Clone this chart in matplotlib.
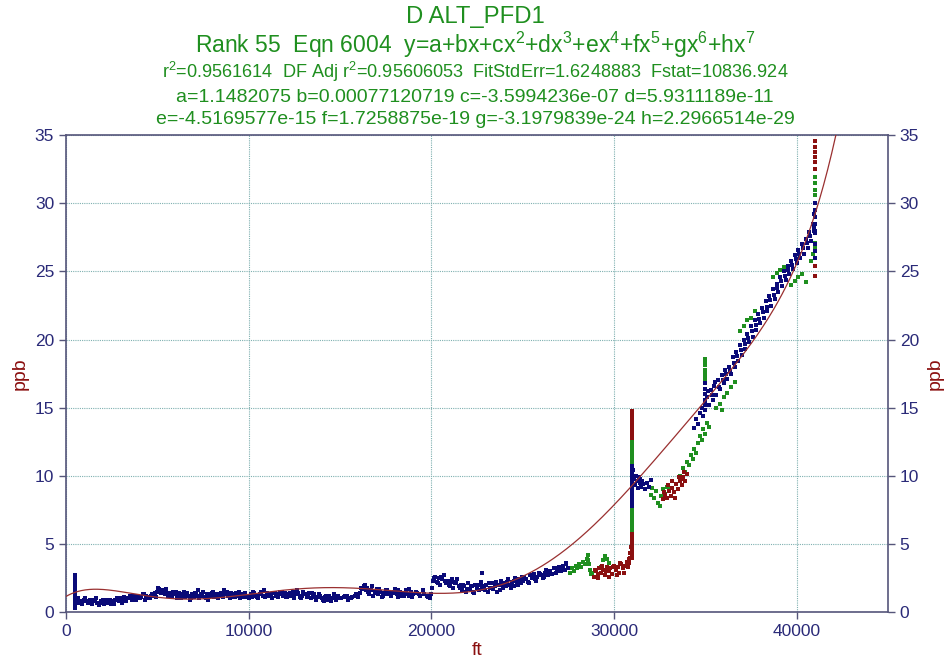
import numpy as np
import matplotlib
matplotlib.use("Agg")
import matplotlib.pyplot as plt

plt.rcParams['font.family'] = ['Liberation Sans', 'DejaVu Sans']
plt.rcParams['mathtext.default'] = 'regular'

# --- fitted polynomial y = a + bx + ... + hx^7 ---
coef = [1.1482075, 0.00077120719, -3.5994236e-07, 5.9311189e-11,
        -4.5169577e-15, 1.7258875e-19, -3.1979839e-24, 2.2966514e-29]

# --- blue points (ft, ppb) ---
blue_spike_ft = [480] * 13
blue_spike_ppb = [0.3, 0.5, 0.7, 0.9, 1.1, 1.3, 1.5, 1.7, 1.9, 2.1, 2.3, 2.5, 2.7]

blue_low_ft = [600, 700, 800, 900, 1000, 1100, 1200, 1300, 1400, 1500,
               1600, 1700, 1800, 1900, 2000, 2100, 2200, 2300, 2400, 2500,
               2600, 2700, 2800, 2900, 3000, 3100, 3200, 3300, 3400, 3500,
               3600, 3700, 3800, 3900, 4000, 4100, 4200, 4300, 4400, 4500,
               4600, 4700, 4800, 4900,
               5000, 5100, 5200, 5300, 5400, 5500, 5600, 5700, 5800, 5900,
               6000, 6100, 6200, 6300, 6400, 6500, 6600, 6700, 6800, 6900,
               7000, 7100, 7200, 7300, 7400, 7500, 7600, 7700, 7800, 7900,
               8000, 8100, 8200, 8300, 8400, 8500, 8600, 8700, 8800, 8900,
               9000, 9100, 9200, 9300, 9400, 9500, 9600, 9700, 9800, 9900,
               10000, 10100, 10200, 10300, 10400, 10500, 10600, 10700, 10800, 10900,
               11000, 11100, 11200, 11300, 11400, 11500, 11600, 11700, 11800, 11900,
               12000, 12100, 12200, 12300, 12400, 12500, 12600, 12700, 12800, 12900,
               13000, 13100, 13200, 13300, 13400, 13500, 13600, 13700, 13800, 13900,
               14000, 14100, 14200, 14300, 14400, 14500, 14600, 14700, 14800, 14900,
               15000, 15200, 15400, 15600, 15800, 16000]
blue_low_ppb = [0.9, 0.7, 0.8, 0.6, 0.9, 0.8, 0.7, 0.9, 0.6, 0.8,
                0.9, 0.7, 0.5, 0.8, 0.9, 0.6, 0.8, 0.7, 0.9, 0.8,
                0.6, 0.9, 1.0, 0.8, 1.0, 0.9, 1.1, 0.8, 1.0, 1.2,
                0.9, 1.1, 1.0, 1.2, 1.0, 1.1, 1.3, 0.9, 1.2, 1.1,
                1.0, 1.3, 1.2, 1.1,
                1.5, 1.7, 1.4, 1.6, 1.3, 1.5, 1.2, 1.4, 1.1, 1.3,
                1.5, 1.2, 1.4, 1.0, 1.3, 1.1, 1.4, 1.2, 0.9, 1.3,
                1.1, 1.4, 1.2, 1.0, 1.3, 1.5, 1.1, 1.3, 0.9, 1.2,
                1.4, 1.1, 1.3, 1.0, 1.2, 1.4, 1.1, 1.3, 1.5, 1.2,
                1.0, 1.3, 1.1, 1.4, 1.2, 1.0, 1.3, 1.1, 1.4, 1.2,
                1.0, 1.3, 1.1, 1.4, 1.2, 1.0, 1.3, 1.5, 1.2, 1.1,
                1.4, 1.2, 1.3, 1.0, 1.4, 1.2, 1.1, 1.5, 1.3, 1.2,
                1.4, 1.1, 1.3, 1.2, 1.5, 1.0, 1.3, 1.4, 1.1, 1.2,
                1.5, 1.3, 1.1, 1.4, 1.0, 1.2, 1.3, 0.9, 1.1, 1.2,
                1.0, 0.8, 1.1, 0.9, 1.2, 0.8, 1.0, 1.1, 0.9, 1.2,
                1.0, 1.1, 1.2, 1.0, 1.2, 1.1]

blue_low2_ft = [650, 850, 1050, 1250, 1450, 1650, 1850, 2050, 2250, 2450,
                2650, 2850, 3050, 3250, 3450, 3650, 3850, 4050, 4250, 4450,
                4650, 4850, 5050, 5250, 5450, 5650, 5850, 6050, 6250, 6450,
                6650, 6850, 7050, 7250, 7450, 7650, 7850, 8050, 8250, 8450,
                8650, 8850, 9050, 9250, 9450, 9650, 9850, 10050, 10250, 10450,
                10650, 10850, 11050, 11250, 11450, 11650, 11850, 12050, 12250, 12450,
                12650, 12850, 13050, 13250, 13450, 13650, 13850, 14050, 14250, 14450,
                14650, 14850, 15050, 15250, 15450, 15650, 15850]
blue_low2_ppb = [1.0, 0.6, 1.0, 0.7, 0.9, 1.0, 0.7, 0.7, 0.9, 0.6,
                 0.8, 0.9, 0.7, 0.9, 1.0, 1.2, 0.9, 1.0, 1.3, 1.0,
                 1.2, 1.4, 1.8, 1.5, 1.7, 1.3, 1.5, 1.0, 1.3, 1.5,
                 1.2, 1.0, 1.4, 1.6, 1.2, 1.0, 1.3, 1.5, 1.1, 1.3,
                 1.6, 1.2, 1.4, 1.1, 1.5, 1.3, 1.1, 1.2, 1.5, 1.1,
                 1.3, 1.6, 1.2, 1.0, 1.4, 1.3, 1.5, 1.1, 1.4, 1.2,
                 1.6, 1.0, 1.3, 1.2, 1.4, 1.1, 1.3, 0.9, 1.2, 1.0,
                 1.3, 1.1, 1.0, 1.2, 0.9, 1.1, 1.3]

blue_mid_ft = [16100, 16200, 16300, 16400, 16500, 16600, 16700, 16800, 16900, 17000,
               17100, 17200, 17300, 17400, 17500, 17600, 17700, 17800, 17900, 18000,
               18100, 18200, 18300, 18400, 18500, 18600, 18700, 18800, 18900, 19000,
               19200, 19400, 19600, 19800, 19900, 20000,
               20050, 20100, 20200, 20300, 20400, 20500, 20600, 20700, 20800, 20900,
               21000, 21100, 21200, 21300, 21400, 21500, 21600, 21700, 21800, 21900,
               22000, 22100, 22200, 22300, 22400, 22500, 22600, 22700, 22750, 22800,
               22900, 23000, 23100, 23200, 23300, 23400, 23500, 23600, 23700, 23800,
               23900, 24000, 24100, 24200, 24300, 24400, 24500, 24600, 24700, 24800,
               24900, 25000, 25100, 25200, 25300, 25400, 25500, 25600, 25700, 25800,
               25900, 26000, 26100, 26200, 26300, 26400, 26500, 26600, 26700, 26800,
               26900, 27000, 27100, 27200, 27300, 27400, 27500]
blue_mid_ppb = [1.4, 1.7, 1.9, 1.6, 1.8, 1.3, 1.6, 1.2, 1.5, 1.7,
                1.3, 1.5, 1.1, 1.4, 1.6, 1.3, 1.5, 1.2, 1.4, 1.7,
                1.3, 1.1, 1.5, 1.4, 1.2, 1.6, 1.3, 1.2, 1.5, 1.3,
                1.4, 1.2, 1.3, 1.1, 1.0, 1.3,
                1.8, 2.3, 2.6, 2.2, 2.5, 2.0, 2.4, 2.7, 2.1, 2.3,
                1.9, 2.2, 1.8, 2.1, 2.4, 1.9, 2.0, 1.6, 1.9, 1.5,
                2.1, 1.7, 1.9, 1.5, 2.0, 1.8, 1.6, 2.2, 2.85, 1.9,
                1.7, 2.0, 1.5, 1.8, 2.1, 1.7, 1.9, 1.5, 2.0, 2.3,
                1.8, 2.1, 1.9, 2.4, 2.0, 2.2, 1.9, 2.5, 2.2, 2.4,
                2.1, 2.3, 2.6, 2.4, 2.2, 2.7, 2.5, 2.8, 2.4, 2.6,
                2.9, 2.7, 2.5, 2.9, 3.1, 2.7, 3.0, 2.8, 3.2, 2.9,
                3.1, 3.3, 3.0, 3.4, 3.1, 3.5, 3.2]

blue_mid2_ft = [16150, 16350, 16550, 16750, 16950, 17150, 17350, 17550, 17750, 17950,
                18150, 18350, 18550, 18750, 18950, 19150, 19350, 19550, 19750, 19950,
                20150, 20350, 20550, 20750, 20950, 21150, 21350, 21550, 21750, 21950,
                22150, 22350, 22550, 22750, 22950, 23150, 23350, 23550, 23750, 23950,
                24150, 24350, 24550, 24750, 24950, 25150, 25350, 25550, 25750, 25950,
                26150, 26350, 26550, 26750, 26950, 27150, 27350]
blue_mid2_ppb = [1.8, 2.0, 1.5, 1.9, 1.4, 1.7, 1.2, 1.6, 1.3, 1.5,
                 1.6, 1.2, 1.4, 1.7, 1.1, 1.5, 1.3, 1.6, 1.2, 1.1,
                 2.5, 2.1, 2.6, 2.3, 2.0, 2.4, 2.2, 1.8, 2.0, 1.7,
                 1.9, 1.4, 2.0, 1.7, 1.6, 2.1, 1.8, 2.2, 1.6, 2.0,
                 2.2, 1.8, 2.3, 2.0, 2.6, 2.4, 2.1, 2.7, 2.3, 2.8,
                 2.6, 3.0, 2.8, 3.2, 3.0, 3.3, 3.6]

blue_post_ft = [31000] * 13 + [31050, 31100, 31150, 31200, 31250, 31300, 31350, 31400,
                               31450, 31500, 31550, 31600, 31700, 31800, 31900, 32000]
blue_post_ppb = [7.75, 8.0, 8.25, 8.5, 8.75, 9.0, 9.25, 9.5, 9.75, 10.0, 10.25, 10.5, 10.75,
                 10.4, 9.8, 9.3, 10.0, 9.6, 9.1, 9.9, 9.5, 9.8, 9.2, 9.6, 9.4, 9.0, 9.5, 9.2, 9.7]

blue_high_ft = [34400, 34500, 34600, 34700, 34800, 34900,
                35000, 35000, 35000, 35000, 35000, 35000, 35000,
                35100, 35200, 35300, 35400, 35500, 35600, 35700, 35800, 35900, 36000,
                36100, 36200, 36300, 36400, 36500, 36600, 36700, 36800, 36900, 37000,
                37100, 37200, 37300, 37400, 37500, 37600, 37700, 37800, 37900, 38000,
                38100, 38200, 38300, 38400, 38500, 38600, 38700, 38800, 38900, 39000,
                39100, 39200, 39300, 39400, 39500, 39600, 39700, 39800, 39900, 40000,
                40100, 40200, 40300, 40400, 40500, 40600, 40700, 40800, 40900, 41000,
                35150, 35350, 35550, 35750, 35950, 36150, 36350, 36550, 36750, 36950,
                37150, 37350, 37550, 37750, 37950, 38150, 38350, 38550, 38750, 38950,
                39150, 39350, 39550, 39750, 39950, 40150, 40350, 40550, 40750, 40950,
                41000, 41000, 41000, 41000, 41000, 41000, 41000, 41000, 40950, 40950]
blue_high_ppb = [13.5, 14.2, 13.8, 14.6, 15.0, 14.4,
                 15.3, 14.8, 15.2, 15.6, 16.0, 16.4, 16.8,
                 15.8, 15.2, 16.3, 15.6, 16.6, 15.9, 17.0, 16.4, 17.4, 16.8,
                 17.8, 17.1, 18.0, 17.5, 18.7, 18.0, 19.1, 18.4, 19.6, 18.9,
                 20.0, 19.3, 20.4, 19.8, 21.0, 20.2, 21.4, 20.7, 21.9, 21.2,
                 22.3, 21.6, 22.8, 22.1, 23.2, 22.5, 23.7, 23.0, 24.1, 23.5,
                 24.6, 23.9, 25.0, 24.4, 25.4, 24.8, 25.8, 25.2, 26.2, 25.6,
                 26.6, 26.0, 27.0, 26.3, 27.4, 26.7, 27.9, 27.2, 28.5, 27.8,
                 16.2, 15.9, 16.9, 16.5, 17.0, 17.5, 17.7, 18.3, 18.8, 19.2,
                 19.7, 20.1, 20.6, 21.1, 21.5, 22.0, 22.4, 22.9, 23.3, 23.8,
                 24.3, 24.7, 25.1, 25.5, 25.9, 26.3, 26.7, 27.1, 27.6, 28.0,
                 26.0, 26.5, 27.0, 28.0, 28.5, 29.0, 29.5, 30.0, 28.2, 29.2]

# --- green points (ft, ppb) ---
green_ft = [27600, 27700, 27800, 27900, 28000, 28100, 28200, 28300, 28400, 28500,
            28550, 28600, 28650, 28700, 28750, 28800,
            29300, 29400, 29500, 29600, 29700,
            31000, 31000, 31000, 31000, 31000, 31000, 31000,
            31000, 31000, 31000, 31000, 31000, 31000, 31000,
            32000, 32100, 32200, 32300, 32400, 32500, 32600, 32700, 32800, 32900, 33000,
            33600, 33800, 33900, 34000, 34100, 34200, 34300, 34400, 34500, 34600,
            34700, 34800, 34900, 35000, 35100, 35200,
            35000, 35000, 35000, 35000, 35000, 35000, 35000,
            35600, 35800, 35900, 36000, 36200, 36400, 36600,
            36900, 37100, 37300, 37500, 37700,
            38700, 38900, 39100, 39300, 39700, 39900, 40100, 40300, 40500,
            40800, 40900, 41000, 41000, 41000, 41000, 41000, 41000]
green_ppb = [2.9, 3.2, 3.0, 3.4, 3.2, 3.5, 3.3, 3.7, 3.5, 3.9,
             4.2, 3.8, 3.5, 3.1, 2.8, 2.9,
             3.3, 3.8, 4.1, 3.9, 3.6,
             6.0, 6.25, 6.5, 6.75, 7.0, 7.25, 7.5,
             11.0, 11.25, 11.5, 11.75, 12.0, 12.25, 12.5,
             8.6, 9.1, 8.4, 8.9, 8.0, 7.8, 8.5, 9.0, 8.7, 9.2, 9.0,
             10.0, 10.6, 10.3, 11.0, 10.8, 11.5, 11.2, 12.0, 11.7, 12.4,
             12.9, 12.6, 13.4, 13.1, 13.9, 13.6,
             16.9, 17.2, 17.5, 17.8, 18.1, 18.4, 18.6,
             15.0, 15.3, 14.8, 15.8, 16.1, 16.5, 16.9,
             20.6, 21.0, 21.4, 21.6, 22.1,
             24.6, 24.9, 25.1, 25.3, 24.0, 24.3, 24.6, 24.8, 24.2,
             25.8, 26.3, 26.8, 27.1, 30.6, 31.0, 31.5, 31.9]

# --- dark red points (ft, ppb) ---
red_ft = [28900, 29000, 29100, 29200, 29300, 29400, 29500, 29600, 29700, 29800,
          29900, 30000, 30100, 30200, 30300, 30400, 30500, 30600, 30700, 30800,
          30850, 30900, 30950,
          28950, 29150, 29350, 29550, 29750, 29950, 30150, 30350, 30550, 30750, 30800,
          31000, 31000, 31000, 31000, 31000, 31000, 31000, 31000,
          31000, 31000, 31000, 31000, 31000, 31000, 31000, 31000, 31000,
          32700, 32800, 32900, 33000, 33100, 33200, 33300, 33400, 33500, 33600,
          33700, 33800, 33900, 34000,
          32750, 32950, 33150, 33350, 33550, 33750, 33850,
          41000, 41000, 41000, 41000, 41000, 41000, 41000, 41000]
red_ppb = [2.6, 3.0, 2.8, 3.2, 2.9, 3.1, 2.7, 3.3, 3.0, 3.2,
           2.8, 3.4, 3.1, 3.3, 2.9, 3.5, 3.2, 3.4, 3.7, 3.6,
           4.0, 4.3, 4.8,
           3.1, 2.5, 3.4, 3.0, 2.6, 3.3, 2.7, 3.6, 2.9, 3.3, 3.9,
           4.0, 4.25, 4.5, 4.75, 5.0, 5.25, 5.5, 5.75,
           12.75, 13.0, 13.25, 13.5, 13.75, 14.0, 14.25, 14.5, 14.75,
           8.3, 8.6, 8.4, 8.9, 8.5, 9.1, 8.8, 9.4, 9.0, 9.6,
           9.3, 9.9, 9.6, 10.1,
           8.8, 9.3, 9.6, 8.4, 9.9, 9.8, 10.3,
           24.7, 25.4, 32.5, 33.0, 33.4, 33.8, 34.1, 34.6]

navy = '#0a0a78'
green = '#1f8f1f'
dred = '#8b1010'
tick_col = '#2a2a78'
spine_col = '#55557a'

fig = plt.figure(figsize=(9.5, 6.66), dpi=100)
ax = fig.add_axes([0.0695, 0.081, 0.8652, 0.716])

ms = 2.8
ax.plot(green_ft, green_ppb, 's', ms=ms, mew=0, color=green, zorder=2)
ax.plot(red_ft, red_ppb, 's', ms=ms, mew=0, color=dred, zorder=2)
for xs, ys in [(blue_spike_ft, blue_spike_ppb), (blue_low_ft, blue_low_ppb),
               (blue_low2_ft, blue_low2_ppb), (blue_mid_ft, blue_mid_ppb),
               (blue_mid2_ft, blue_mid2_ppb), (blue_post_ft, blue_post_ppb),
               (blue_high_ft, blue_high_ppb)]:
    ax.plot(xs, ys, 's', ms=ms, mew=0, color=navy, zorder=3)

xf = np.linspace(0, 45000, 600)
yf = np.polyval(coef[::-1], xf)
ax.plot(xf, yf, color='#9a3030', lw=0.9, zorder=4)

ax.set_xlim(0, 45000)
ax.set_ylim(0, 35)
ax.set_xticks([0, 10000, 20000, 30000, 40000])
ax.set_yticks([0, 5, 10, 15, 20, 25, 30, 35])
ax.grid(True, color='#7fb0b0', lw=0.8, ls=(0, (1, 1)))
for s in ax.spines.values():
    s.set_color(spine_col)
    s.set_linewidth(1.2)
ax.tick_params(direction='out', length=5, width=1, color=spine_col,
               labelcolor=tick_col, labelsize=12.5, right=True, labelright=True)
ax.set_xlabel('ft', color=dred, fontsize=14, labelpad=2)
ax.set_ylabel('ppb', color=dred, fontsize=14, labelpad=4)
fig.text(0.984, 0.439, 'ppb', color=dred, fontsize=14, rotation=90,
         ha='center', va='center')

title_lines = [
    ('D ALT_PFD1', 0.974, 17.2),
    ('Rank 55  Eqn 6004  y=a+bx+cx$^2$+dx$^3$+ex$^4$+fx$^5$+gx$^6$+hx$^7$', 0.932, 16.5),
    ('r$^2$=0.9561614  DF Adj r$^2$=0.95606053  FitStdErr=1.6248883  Fstat=10836.924', 0.892, 13.1),
    ('a=1.1482075 b=0.00077120719 c=-3.5994236e-07 d=5.9311189e-11', 0.854, 14),
    ('e=-4.5169577e-15 f=1.7258875e-19 g=-3.1979839e-24 h=2.2966514e-29', 0.820, 14),
]
for txt, yy, fs in title_lines:
    fig.text(0.5, yy, txt, ha='center', va='center', color=green, fontsize=fs)

fig.savefig('out.png', dpi=100)
